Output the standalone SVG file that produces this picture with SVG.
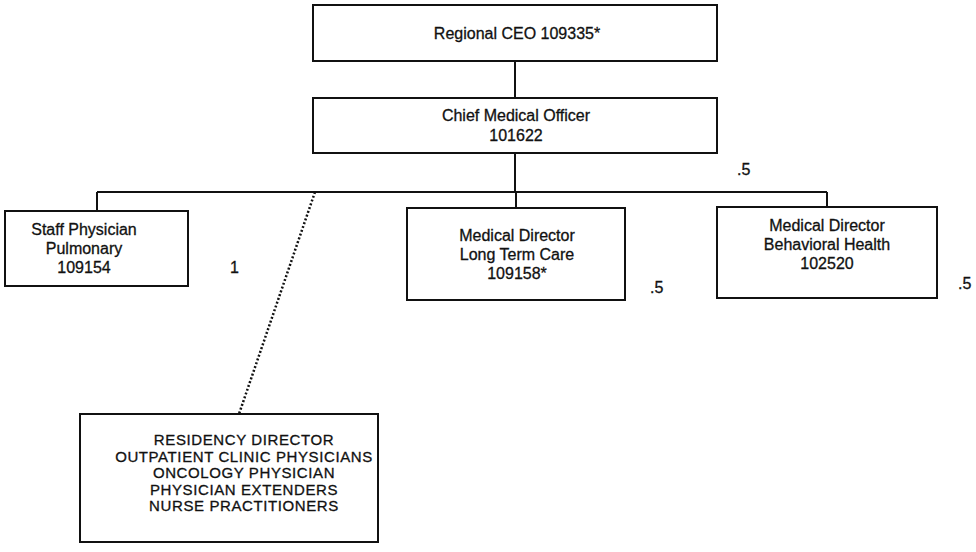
<svg xmlns="http://www.w3.org/2000/svg" width="976" height="552" viewBox="0 0 976 552">
<style>
.box{fill:#fff;stroke:#111;stroke-width:2}
.t{font-family:"Liberation Sans",Arial,sans-serif;font-size:16px;fill:#111;stroke:#111;stroke-width:0.3;text-anchor:middle}
.s{font-size:15px;letter-spacing:0.6px}
.n{font-family:"Liberation Sans",Arial,sans-serif;font-size:16px;fill:#111;stroke:#111;stroke-width:0.3}
.c{fill:none;stroke:#111;stroke-width:2}
.d{fill:none;stroke:#111;stroke-width:2.5;stroke-dasharray:2 2}
</style>
<rect width="976" height="552" fill="#fff"/>
<g id="connectors">
<line class="c" x1="515" y1="61" x2="515" y2="98"/>
<line class="c" x1="515" y1="153" x2="515" y2="192"/>
<line class="c" x1="97" y1="192" x2="827" y2="192"/>
<line class="c" x1="97" y1="192" x2="97" y2="211"/>
<line class="c" x1="516" y1="192" x2="516" y2="208"/>
<line class="c" x1="827" y1="192" x2="827" y2="207"/>
<line class="d" x1="315" y1="192" x2="239" y2="414"/>
</g>
<g id="ceo">
<rect class="box" x="313" y="5" width="404" height="56"/>
<text class="t" x="517" y="39">Regional CEO 109335*</text>
</g>
<g id="cmo">
<rect class="box" x="313" y="98" width="404" height="55"/>
<text class="t" x="516" y="121">Chief Medical Officer</text>
<text class="t" x="516" y="141">101622</text>
<text class="n" x="737" y="175">.5</text>
</g>
<g id="staff">
<rect class="box" x="5" y="211" width="183" height="75"/>
<text class="t" x="84" y="235">Staff Physician</text>
<text class="t" x="84" y="254">Pulmonary</text>
<text class="t" x="84" y="273">109154</text>
<text class="n" x="230" y="273">1</text>
</g>
<g id="ltc">
<rect class="box" x="407" y="208" width="218" height="92"/>
<text class="t" x="517" y="241">Medical Director</text>
<text class="t" x="517" y="260">Long Term Care</text>
<text class="t" x="517" y="279">109158*</text>
<text class="n" x="650" y="293">.5</text>
</g>
<g id="bh">
<rect class="box" x="717" y="207" width="220" height="91"/>
<text class="t" x="827" y="231">Medical Director</text>
<text class="t" x="827" y="250">Behavioral Health</text>
<text class="t" x="827" y="269">102520</text>
<text class="n" x="958" y="289">.5</text>
</g>
<g id="others">
<rect class="box" x="80" y="414" width="298" height="128"/>
<text class="t s" x="244" y="445">RESIDENCY DIRECTOR</text>
<text class="t s" x="244" y="461.5">OUTPATIENT CLINIC PHYSICIANS</text>
<text class="t s" x="244" y="478">ONCOLOGY PHYSICIAN</text>
<text class="t s" x="244" y="494.5">PHYSICIAN EXTENDERS</text>
<text class="t s" x="244" y="511">NURSE PRACTITIONERS</text>
</g>
</svg>
